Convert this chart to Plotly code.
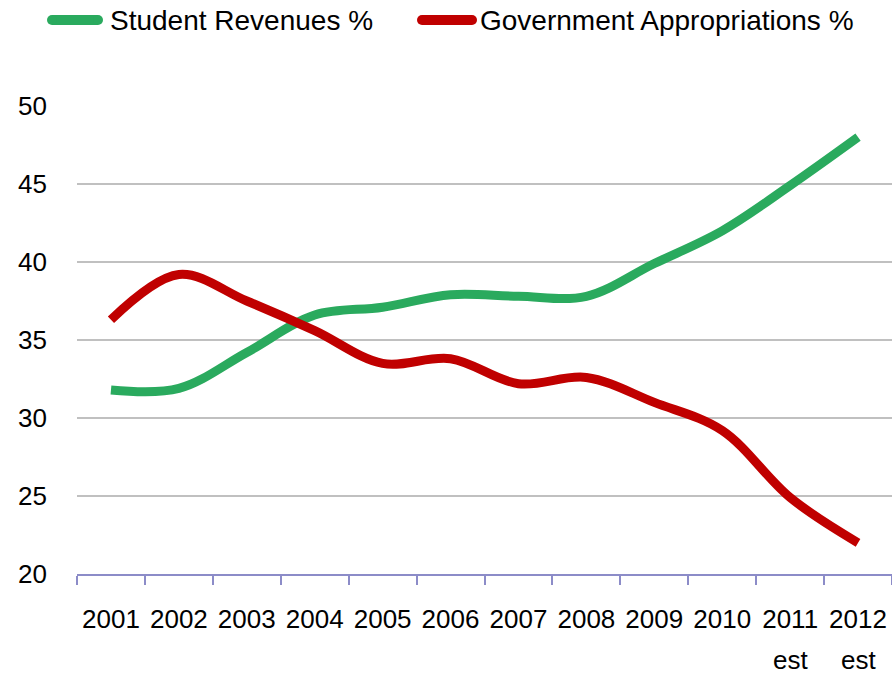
import plotly.graph_objects as go

# Share of revenue, percent
years = ["2001", "2002", "2003", "2004", "2005", "2006",
         "2007", "2008", "2009", "2010", "2011", "2012"]
sub_labels = ["", "", "", "", "", "", "", "", "", "", "est", "est"]
student_revenues = [31.8, 31.9, 34.2, 36.6, 37.1, 37.9, 37.8, 37.8, 39.9, 42.0, 44.9, 48.0]
gov_appropriations = [36.3, 39.2, 37.5, 35.6, 33.5, 33.8, 32.2, 32.6, 31.0, 29.2, 24.9, 22.0]

series_names = ["Student Revenues %", "Government Appropriations %"]
series_colors = ["#2aaa5e", "#c00000"]

W, H = 892, 676
L, R, T, B = 77, 0, 106, 102
PW, PH = W - L - R, H - T - B

FONT = "Liberation Sans, Arial, sans-serif"


def px_x(px):
    return (px - L) / PW


def px_y(py):
    return (H - B - py) / PH


fig = go.Figure()
for name, vals, col in zip(series_names, [student_revenues, gov_appropriations], series_colors):
    fig.add_trace(go.Scatter(
        x=years, y=vals, name=name, mode="lines",
        line=dict(color=col, width=9, shape="spline", smoothing=1.0),
        showlegend=False, hoverinfo="x+y+name",
    ))

# Legend drawn at the top with rounded line swatches
shapes = []
annotations = []
legend_items = [(47, 103, 108), (417, 477, 478)]
for (x0, x1, tx), name, col in zip(legend_items, series_names, series_colors):
    yc = px_y(20)
    r = 5
    shapes.append(dict(type="line", xref="paper", yref="paper",
                       x0=px_x(x0 + r), x1=px_x(x1 - r), y0=yc, y1=yc,
                       line=dict(color=col, width=2 * r)))
    for cx in (x0 + r, x1 - r):
        shapes.append(dict(type="circle", xref="paper", yref="paper",
                           xsizemode="pixel", ysizemode="pixel",
                           xanchor=px_x(cx), yanchor=yc,
                           x0=-r, x1=r, y0=-r, y1=r,
                           fillcolor=col, line=dict(width=0)))
    annotations.append(dict(text=name, xref="paper", yref="paper",
                            x=px_x(tx), y=yc, xanchor="left", yanchor="middle",
                            showarrow=False, font=dict(size=28, color="#000000", family=FONT)))

# Second line under the estimated years (placed by category index)
for i, sub in enumerate(sub_labels):
    if sub:
        annotations.append(dict(text=sub, xref="x", yref="paper", x=i,
                                y=px_y(676), yanchor="bottom", xanchor="center",
                                borderpad=0, showarrow=False,
                                font=dict(size=26, color="#000000", family=FONT)))

fig.update_layout(
    width=W, height=H,
    margin=dict(l=L, r=R, t=T, b=B),
    paper_bgcolor="white", plot_bgcolor="white",
    font=dict(family=FONT, size=26, color="#000000"),
    shapes=shapes, annotations=annotations,
    showlegend=False,
)
fig.update_xaxes(
    type="category", categoryorder="array", categoryarray=years,
    range=[-0.5, len(years) - 0.5], autorange=False,
    showgrid=False, zeroline=False,
    showline=True, linecolor="#8c8cc8", linewidth=2,
    ticks="outside", tickson="boundaries", ticklen=9, tickwidth=2, tickcolor="#8c8cc8",
    tickangle=0, ticklabelstandoff=21,
    tickfont=dict(size=26, family=FONT, color="#000000"),
)
fig.update_yaxes(
    range=[20, 50], dtick=5, tick0=20,
    showgrid=True, gridcolor="#c0c0c0", gridwidth=2,
    zeroline=False, showline=False, ticks="",
    ticklabelstandoff=29,
    tickfont=dict(size=26, family=FONT, color="#000000"),
)

fig.write_html("out.html")
